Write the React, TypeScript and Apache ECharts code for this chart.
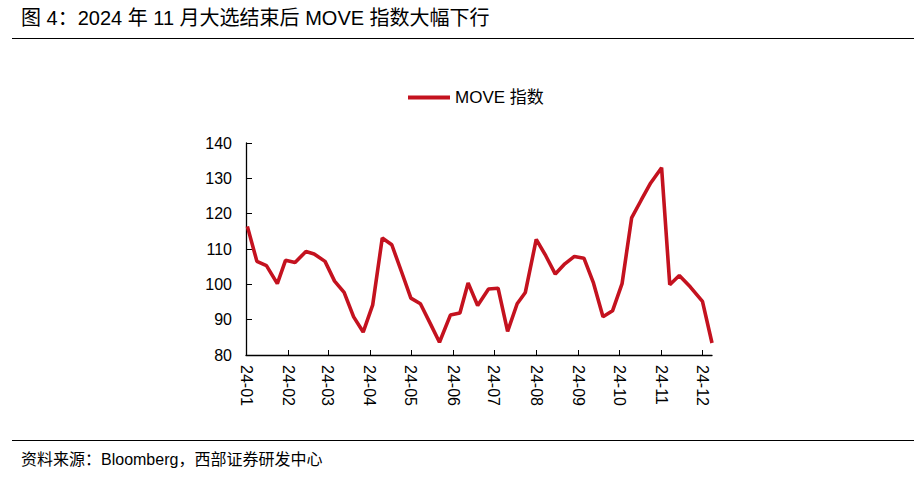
import React, { useEffect, useRef } from "react";
import * as echarts from "echarts";

const titleText = "图 4：2024 年 11 月大选结束后 MOVE 指数大幅下行";
const sourceText = "资料来源：Bloomberg，西部证券研发中心";
const seriesName = "MOVE 指数";

const dates = [
  "2024-01-02", "2024-01-09", "2024-01-16", "2024-01-24", "2024-01-30",
  "2024-02-06", "2024-02-14", "2024-02-20", "2024-02-28", "2024-03-06",
  "2024-03-13", "2024-03-20", "2024-03-27", "2024-04-03", "2024-04-10",
  "2024-04-17", "2024-04-24", "2024-05-01", "2024-05-08", "2024-05-15",
  "2024-05-22", "2024-05-30", "2024-06-06", "2024-06-12", "2024-06-19",
  "2024-06-27", "2024-07-04", "2024-07-11", "2024-07-18", "2024-07-24",
  "2024-08-01", "2024-08-08", "2024-08-15", "2024-08-22", "2024-08-29",
  "2024-09-05", "2024-09-12", "2024-09-19", "2024-09-26", "2024-10-03",
  "2024-10-10", "2024-10-17", "2024-10-24", "2024-11-01", "2024-11-07",
  "2024-11-14", "2024-11-22", "2024-12-01", "2024-12-08",
];

const moveValues = [
  116.4, 106.5, 105.3, 100.2, 106.8,
  106.2, 109.3, 108.6, 106.5, 100.9,
  97.7, 90.8, 86.5, 94.2, 113.1,
  111.2, 103.7, 96.1, 94.5, 89.1,
  83.6, 91.3, 91.9, 100.4, 94.0,
  98.7, 98.9, 86.7, 94.5, 97.7,
  112.7, 108.1, 102.9, 105.8, 107.9,
  107.4, 100.4, 90.8, 92.5, 100.2,
  118.8, 123.8, 128.7, 133.0, 99.9,
  102.5, 99.3, 95.2, 83.4,
];

const yMin = 80;
const yMax = 140;
const yStep = 10;
const xMin = "2024-01-01";
const xMax = "2024-12-08";

const RED = "#C4121F";

export default function App() {
  const ref = useRef<HTMLDivElement>(null);

  useEffect(() => {
    if (!ref.current) return;
    const chart = echarts.init(ref.current, null, { renderer: "svg" });
    const font = '"Liberation Sans", "Noto Sans CJK SC", sans-serif';
    chart.setOption({
      animation: false,
      backgroundColor: "#ffffff",
      textStyle: { fontFamily: font },
      legend: {
        top: 84,
        left: 403,
        itemWidth: 42,
        itemHeight: 4,
        itemGap: 6,
        icon: "rect",
        textStyle: { fontSize: 17, color: "#000", fontFamily: font },
        data: [seriesName],
      },
      grid: { left: 246, top: 143, right: 212, bottom: 131 },
      xAxis: {
        type: "time",
        min: xMin,
        max: xMax,
        minInterval: 28 * 86400000,
        maxInterval: 31 * 86400000,
        axisLine: { lineStyle: { color: "#000", width: 1.3 } },
        axisTick: { show: true, inside: true, length: 5, lineStyle: { color: "#000" } },
        splitLine: { show: false },
        axisLabel: {
          rotate: -90,
          fontSize: 16,
          color: "#000",
          margin: 10,
          hideOverlap: false,
          showMaxLabel: false,
          formatter: (v: number) => {
            const d = new Date(v);
            const yy = String(d.getFullYear()).slice(2);
            const mm = String(d.getMonth() + 1).padStart(2, "0");
            return yy + "-" + mm;
          },
        },
      },
      yAxis: {
        type: "value",
        min: yMin,
        max: yMax,
        interval: yStep,
        axisLine: { show: true, lineStyle: { color: "#000", width: 1.3 } },
        axisTick: { show: true, inside: true, length: 6, lineStyle: { color: "#000" } },
        splitLine: { show: false },
        axisLabel: { fontSize: 16, color: "#000", margin: 14 },
      },
      series: [
        {
          name: seriesName,
          type: "line",
          data: dates.map((d, i) => [d, moveValues[i]]),
          showSymbol: false,
          symbol: "none",
          lineStyle: { color: RED, width: 3.6 },
          itemStyle: { color: RED },
        },
      ],
      graphic: [
        {
          type: "text",
          left: 21,
          top: 8,
          style: {
            text: titleText,
            fontSize: 20,
            fill: "#000",
            fontFamily: font,
          },
        },
        {
          type: "line",
          shape: { x1: 12, y1: 38.5, x2: 914, y2: 38.5 },
          style: { stroke: "#000", lineWidth: 1.2 },
        },
        {
          type: "line",
          shape: { x1: 12, y1: 440.5, x2: 914, y2: 440.5 },
          style: { stroke: "#000", lineWidth: 1.2 },
        },
        {
          type: "text",
          left: 21,
          top: 451,
          style: {
            text: sourceText,
            fontSize: 16,
            fill: "#000",
            fontFamily: font,
          },
        },
      ],
    });
    return () => chart.dispose();
  }, []);

  return (
    <div
      ref={ref}
      style={{ position: "fixed", left: 0, top: 0, width: 924, height: 486, background: "#fff" }}
    />
  );
}
